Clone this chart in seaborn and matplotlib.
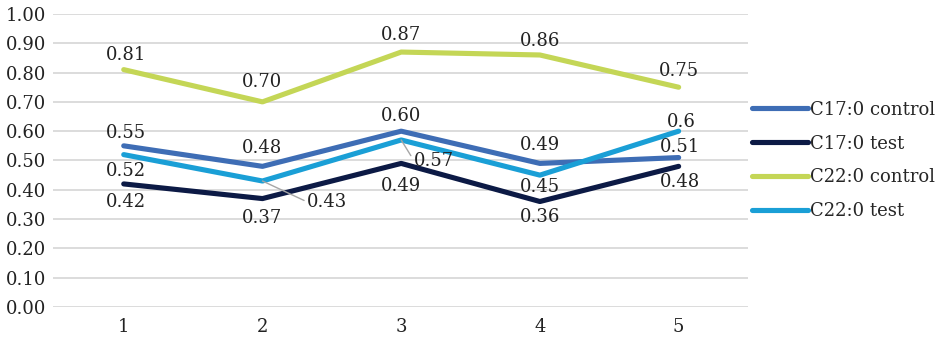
import pandas as pd
import matplotlib.pyplot as plt
import seaborn as sns

# Data
samples = [1, 2, 3, 4, 5]
c17_control = [0.55, 0.48, 0.60, 0.49, 0.51]
c17_test = [0.42, 0.37, 0.49, 0.36, 0.48]
c22_control = [0.81, 0.70, 0.87, 0.86, 0.75]
c22_test = [0.52, 0.43, 0.57, 0.45, 0.60]
c22_test_labels = ['0.52', '0.43', '0.57', '0.45', '0.6']

series_names = ['C17:0 control', 'C17:0 test', 'C22:0 control', 'C22:0 test']
palette = {'C17:0 control': '#3E6DB5', 'C17:0 test': '#0C1A45',
           'C22:0 control': '#C4D656', 'C22:0 test': '#1A9FD6'}

df = pd.DataFrame({
    'sample': samples * 4,
    'value': c17_control + c17_test + c22_control + c22_test,
    'series': [s for s in series_names for _ in samples],
})

sns.set_style("whitegrid")
plt.rcParams['font.family'] = ['DejaVu Serif', 'Liberation Serif']
FS = 13

fig = plt.figure(figsize=(9.43, 3.38), dpi=100)
ax = fig.add_axes([0.0562, 0.0917, 0.737, 0.867])

sns.lineplot(data=df, x='sample', y='value', hue='series', hue_order=series_names,
             palette=palette, linewidth=3.7, solid_capstyle='round', ax=ax, legend=True)

ax.set_xlim(0.49, 5.5)
ax.set_ylim(0, 1.0)
ax.set_yticks([i / 10 for i in range(11)])
ax.set_yticklabels([f'{i / 10:.2f}' for i in range(11)])
ax.set_xticks(samples)
ax.set_xticklabels([str(s) for s in samples])
ax.tick_params(axis='both', length=0, labelsize=FS, colors='#222222')
ax.tick_params(axis='y', pad=5)
ax.tick_params(axis='x', pad=8)
ax.grid(axis='x', visible=False)
ax.grid(axis='y', color='#D9D9D9', linewidth=1.3)
ax.set_xlabel('')
ax.set_ylabel('')
for sp in ax.spines.values():
    sp.set_visible(False)

px = 72 / 100  # points per pixel


def label(x, y, txt, dx, dy, leader=False):
    kw = {}
    if leader:
        kw['arrowprops'] = dict(arrowstyle='-', color='#A6A6A6', lw=1,
                                shrinkA=0, shrinkB=0, relpos=(0, 0.5))
    ax.annotate(txt, (x, y), xytext=(dx * px, dy * px), textcoords='offset points',
                ha='center', va='center', fontsize=FS, color='#222222', **kw)


# label offsets in pixels (dx, dy), placed like the reference
c22c_off = [(2, 15), (0, 20), (0, 17), (0, 14), (0, 16)]
c17c_off = [(2, 13), (0, 18), (0, 15), (0, 18), (1, 11)]
c17t_off = [(2, -18), (0, -19), (0, -23), (0, -15), (1, -16)]
c22t_off = [(2, -16), (65, -21), (33, -21), (0, -12), (3, 9)]

for x, v, (dx, dy) in zip(samples, c22_control, c22c_off):
    label(x, v, f'{v:.2f}', dx, dy)
for x, v, (dx, dy) in zip(samples, c17_control, c17c_off):
    label(x, v, f'{v:.2f}', dx, dy)
for x, v, (dx, dy) in zip(samples, c17_test, c17t_off):
    label(x, v, f'{v:.2f}', dx, dy)
for x, v, t, (dx, dy) in zip(samples, c22_test, c22_test_labels, c22t_off):
    label(x, v, t, dx, dy, leader=(x in (2, 3)))

ax.legend(loc='center left', bbox_to_anchor=(1.0, 0.5), frameon=False,
          handlelength=3.1, handletextpad=0.15, labelspacing=0.88,
          fontsize=FS, borderaxespad=0, borderpad=0.2)

fig.savefig('out.png', dpi=100)
